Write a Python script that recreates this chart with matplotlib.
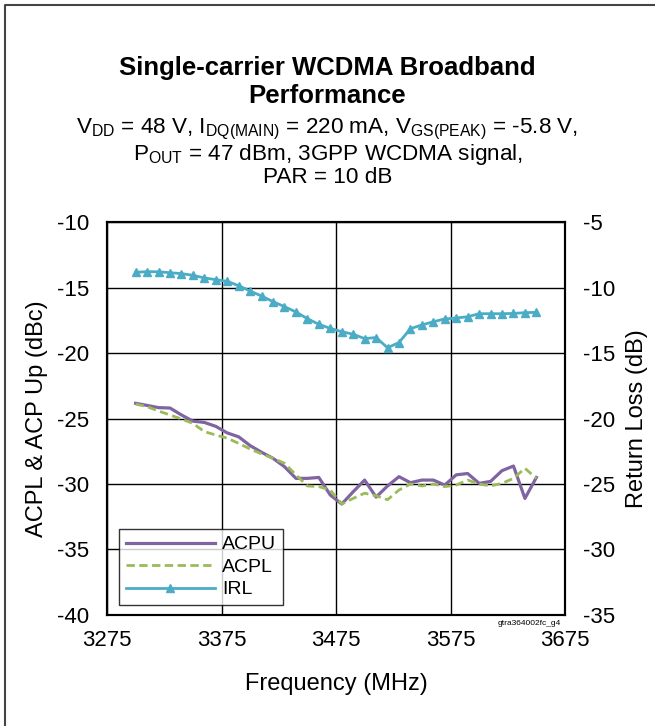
import matplotlib.pyplot as plt
from matplotlib.lines import Line2D

plt.rcParams['font.family'] = ['Liberation Sans', 'DejaVu Sans']
plt.rcParams['mathtext.fontset'] = 'custom'
plt.rcParams['mathtext.rm'] = 'Liberation Sans'
plt.rcParams['mathtext.default'] = 'regular'
plt.rcParams['axes.unicode_minus'] = False

# Frequency points (MHz)
freq = [3300 + 10 * i for i in range(36)]

# ACPU / ACPL (dBc) - left axis
acpu = [-23.84, -24.0, -24.17, -24.2, -24.73, -25.2, -25.3, -25.6, -26.1, -26.4,
        -27.07, -27.58, -28.04, -28.68, -29.57, -29.57, -29.5, -30.84, -31.53, -30.59,
        -29.7, -31.0, -30.15, -29.44, -29.9, -29.7, -29.7, -30.08, -29.3, -29.2,
        -29.95, -29.8, -28.98, -28.63, -31.1, -29.5]
acpl = [-23.9, -24.1, -24.43, -24.73, -25.04, -25.37, -26.0, -26.26, -26.5, -26.9,
        -27.33, -27.7, -28.04, -28.42, -29.3, -30.15, -30.2, -30.46, -31.53, -31.1,
        -30.7, -30.9, -31.2, -30.46, -30.0, -30.15, -30.0, -30.2, -30.08, -29.7,
        -30.0, -30.15, -29.95, -29.57, -28.8, -29.57]

# IRL (dB) - right axis
irl = [-8.84, -8.79, -8.8, -8.87, -8.94, -9.07, -9.27, -9.4, -9.53, -9.86,
       -10.27, -10.65, -11.08, -11.46, -11.87, -12.38, -12.81, -13.12, -13.37, -13.57,
       -13.9, -13.82, -14.6, -14.2, -13.14, -12.86, -12.61, -12.4, -12.33, -12.23,
       -12.0, -12.0, -12.0, -11.98, -11.92, -11.9]

xticks = [3275, 3375, 3475, 3575, 3675]
left_ticks = [-40, -35, -30, -25, -20, -15, -10]
right_ticks = [-35, -30, -25, -20, -15, -10, -5]

fig = plt.figure(figsize=(6.55, 7.26), dpi=100)
# page border (top and left edges only)
fig.lines.append(Line2D([0.007, 0.007, 1.0], [0.0, 0.993, 0.993], transform=fig.transFigure,
                        color='#444444', linewidth=1.5))

ax = fig.add_axes([0.1634, 0.1529, 0.6992, 0.5413])
ax2 = ax.twinx()

l1, = ax.plot(freq, acpu, color='#8064A2', linewidth=2.3, label='ACPU')
l2, = ax.plot(freq, acpl, color='#9BBB59', linewidth=2, linestyle=(0, (3, 1.6)), label='ACPL')
l3, = ax2.plot(freq, irl, color='#4BACC6', linewidth=2, marker='^', markersize=5.5, label='IRL')

ax.set_xlim(3275, 3675)
ax.set_ylim(-40, -10)
ax2.set_ylim(-35, -5)
ax.set_xticks(xticks)
ax.set_yticks(left_ticks)
ax2.set_yticks(right_ticks)
ax.grid(True, color='black', linewidth=1)
ax.tick_params(axis='x', labelsize=16, length=0, pad=11)
ax.tick_params(axis='y', labelsize=16, length=0, pad=13)
ax2.tick_params(labelsize=16, length=0, pad=13)
for a in (ax, ax2):
    for s in a.spines.values():
        s.set_linewidth(1.5)

ax.set_xlabel('Frequency (MHz)', fontsize=17, labelpad=16)
ax.set_ylabel('ACPL & ACP Up (dBc)', fontsize=17, labelpad=6)
ax2.set_ylabel('Return Loss (dB)', fontsize=17, labelpad=8)

leg = ax.legend(handles=[l1, l2, l3], loc='lower left', bbox_to_anchor=(0.026, 0.025),
                fontsize=14, handlelength=4.6, frameon=True, fancybox=False,
                edgecolor='black', borderpad=0.35, labelspacing=0.25, handletextpad=0.35,
                borderaxespad=0)
leg.get_frame().set_linewidth(1)

fig.text(0.5, 0.8967, 'Single-carrier WCDMA Broadband', ha='center', va='baseline',
         fontsize=18.5, fontweight='bold')
fig.text(0.5, 0.8581, 'Performance', ha='center', va='baseline',
         fontsize=18.5, fontweight='bold')
fig.text(0.5, 0.8168, 'V$_{DD}$ = 48 V, I$_{DQ(MAIN)}$ = 220 mA, V$_{GS(PEAK)}$ = -5.8 V,',
         ha='center', va='baseline', fontsize=16.2)
fig.text(0.5, 0.779, 'P$_{OUT}$ = 47 dBm, 3GPP WCDMA signal,', ha='center', va='baseline',
         fontsize=16.2)
fig.text(0.5, 0.7485, 'PAR = 10 dB', ha='center', va='baseline', fontsize=16.2)
fig.text(0.856, 0.141, 'gtra364002fc_g4', ha='right', va='center', fontsize=6)

fig.savefig('out.png', dpi=100)
